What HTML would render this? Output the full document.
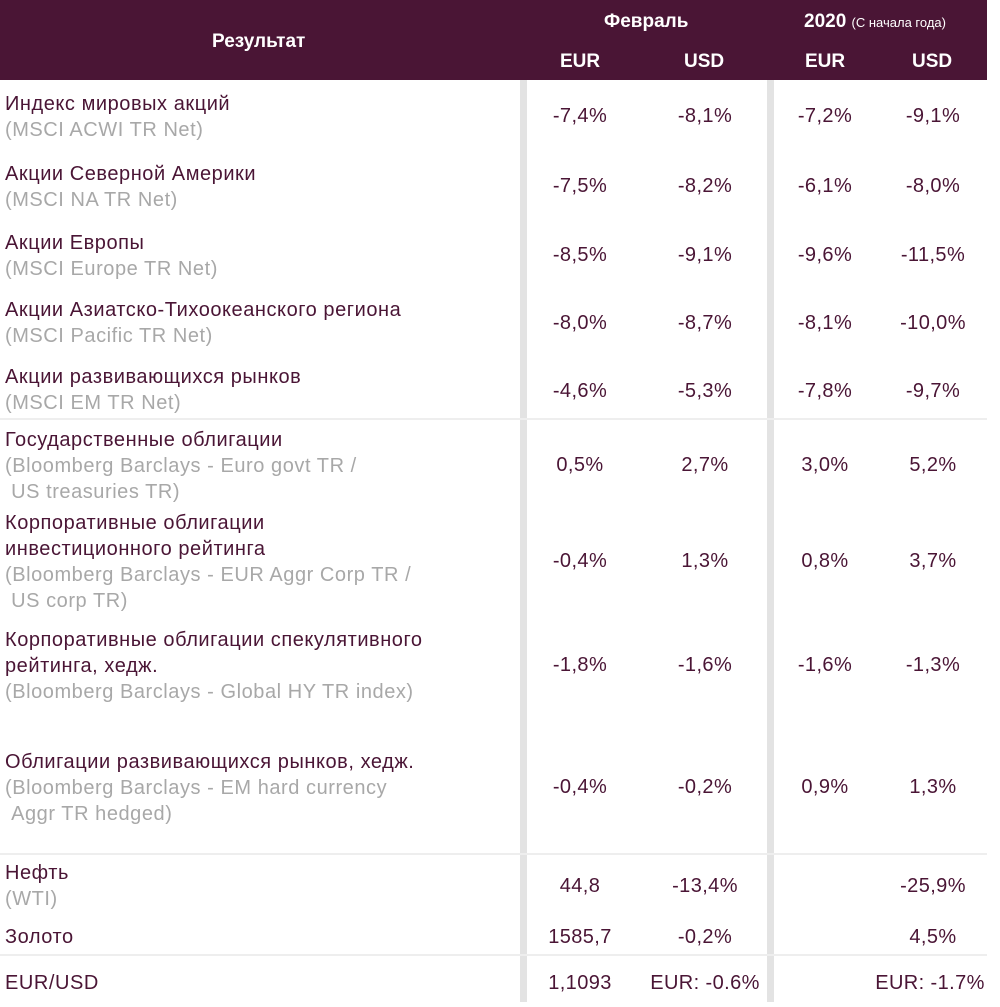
<!DOCTYPE html>
<html><head><meta charset="utf-8"><style>
body{margin:0;width:1000px;height:1007px;background:#fff;position:relative;overflow:hidden;font-family:"Liberation Sans","Noto Sans CJK SC",sans-serif;}
.h{position:absolute;left:0;top:0;width:987px;height:80px;background:#4a1535;}
.w{position:absolute;color:#fff;font-weight:bold;font-size:19px;line-height:24px;white-space:nowrap}
.t{position:absolute;left:5px;font-size:20px;letter-spacing:0.55px;line-height:26px;color:#4a1535;white-space:nowrap}
.g{color:#a8a8a8}
.v{position:absolute;width:140px;margin-left:-70px;text-align:center;font-size:20px;letter-spacing:0.4px;line-height:24px;color:#4a1535;white-space:nowrap}
.bar{position:absolute;top:80px;height:922px;width:7px;background:#e3e3e3}
.ln{position:absolute;left:0;width:987px;height:2px;background:#eeeeee}
</style></head><body>
<div class="h"></div>
<div class="w" style="left:212px;top:30px">Результат</div>
<div class="w" style="left:604px;top:10px">Февраль</div>
<div class="w" style="left:804px;top:10px">2020 <span style="font-size:13px;font-weight:normal">(С начала года)</span></div>
<div class="w" style="left:560px;top:50px">EUR</div>
<div class="w" style="left:684px;top:50px">USD</div>
<div class="w" style="left:805px;top:50px">EUR</div>
<div class="w" style="left:912px;top:50px">USD</div>
<div class="bar" style="left:520px"></div>
<div class="bar" style="left:767px"></div>
<div class="ln" style="top:418px"></div>
<div class="ln" style="top:853px"></div>
<div class="ln" style="top:954px"></div>

<div class="t" style="top:91px">Индекс мировых акций<br><span class="g">(MSCI ACWI TR Net)</span></div>
<div class="t" style="top:161px">Акции Северной Америки<br><span class="g">(MSCI NA TR Net)</span></div>
<div class="t" style="top:230px">Акции Европы<br><span class="g">(MSCI Europe TR Net)</span></div>
<div class="t" style="top:297px">Акции Азиатско-Тихоокеанского региона<br><span class="g">(MSCI Pacific TR Net)</span></div>
<div class="t" style="top:364px">Акции развивающихся рынков<br><span class="g">(MSCI EM TR Net)</span></div>
<div class="t" style="top:427px">Государственные облигации<br><span class="g">(Bloomberg Barclays - Euro govt TR /<br>&nbsp;US treasuries TR)</span></div>
<div class="t" style="top:510px">Корпоративные облигации<br>инвестиционного рейтинга<br><span class="g">(Bloomberg Barclays - EUR Aggr Corp TR /<br>&nbsp;US corp TR)</span></div>
<div class="t" style="top:627px">Корпоративные облигации спекулятивного<br>рейтинга, хедж.<br><span class="g">(Bloomberg Barclays - Global HY TR index)</span></div>
<div class="t" style="top:749px">Облигации развивающихся рынков, хедж.<br><span class="g">(Bloomberg Barclays - EM hard currency<br>&nbsp;Aggr TR hedged)</span></div>
<div class="t" style="top:860px">Нефть<br><span class="g">(WTI)</span></div>
<div class="t" style="top:924px">Золото</div>
<div class="t" style="top:970px">EUR/USD</div>

<div class="v" style="left:580px;top:104px">-7,4%</div><div class="v" style="left:705px;top:104px">-8,1%</div><div class="v" style="left:825px;top:104px">-7,2%</div><div class="v" style="left:933px;top:104px">-9,1%</div>
<div class="v" style="left:580px;top:174px">-7,5%</div><div class="v" style="left:705px;top:174px">-8,2%</div><div class="v" style="left:825px;top:174px">-6,1%</div><div class="v" style="left:933px;top:174px">-8,0%</div>
<div class="v" style="left:580px;top:243px">-8,5%</div><div class="v" style="left:705px;top:243px">-9,1%</div><div class="v" style="left:825px;top:243px">-9,6%</div><div class="v" style="left:933px;top:243px">-11,5%</div>
<div class="v" style="left:580px;top:311px">-8,0%</div><div class="v" style="left:705px;top:311px">-8,7%</div><div class="v" style="left:825px;top:311px">-8,1%</div><div class="v" style="left:933px;top:311px">-10,0%</div>
<div class="v" style="left:580px;top:379px">-4,6%</div><div class="v" style="left:705px;top:379px">-5,3%</div><div class="v" style="left:825px;top:379px">-7,8%</div><div class="v" style="left:933px;top:379px">-9,7%</div>
<div class="v" style="left:580px;top:453px">0,5%</div><div class="v" style="left:705px;top:453px">2,7%</div><div class="v" style="left:825px;top:453px">3,0%</div><div class="v" style="left:933px;top:453px">5,2%</div>
<div class="v" style="left:580px;top:549px">-0,4%</div><div class="v" style="left:705px;top:549px">1,3%</div><div class="v" style="left:825px;top:549px">0,8%</div><div class="v" style="left:933px;top:549px">3,7%</div>
<div class="v" style="left:580px;top:653px">-1,8%</div><div class="v" style="left:705px;top:653px">-1,6%</div><div class="v" style="left:825px;top:653px">-1,6%</div><div class="v" style="left:933px;top:653px">-1,3%</div>
<div class="v" style="left:580px;top:775px">-0,4%</div><div class="v" style="left:705px;top:775px">-0,2%</div><div class="v" style="left:825px;top:775px">0,9%</div><div class="v" style="left:933px;top:775px">1,3%</div>
<div class="v" style="left:580px;top:874px">44,8</div><div class="v" style="left:705px;top:874px">-13,4%</div><div class="v" style="left:933px;top:874px">-25,9%</div>
<div class="v" style="left:580px;top:925px">1585,7</div><div class="v" style="left:705px;top:925px">-0,2%</div><div class="v" style="left:933px;top:925px">4,5%</div>
<div class="v" style="left:580px;top:971px">1,1093</div><div class="v" style="left:705px;top:971px">EUR: -0.6%</div><div class="v" style="left:930px;top:971px">EUR: -1.7%</div>
</body></html>
